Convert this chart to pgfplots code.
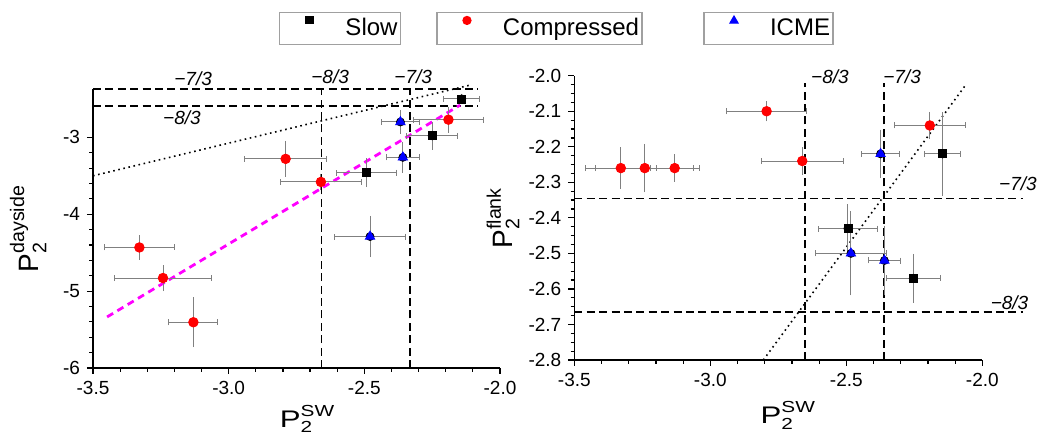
\documentclass[border=0pt]{standalone}
\usepackage{fontspec}
\setmainfont{Liberation Sans}
\newfontfamily\xlblfont[FakeStretch=1.3]{Liberation Sans}
\usepackage{amsmath}
\usepackage{pgfplots}
\usepackage{pgfplotstable}
\pgfplotsset{compat=1.18}

\definecolor{errgray}{HTML}{808080}
\definecolor{ptred}{HTML}{FF0000}
\definecolor{ptblue}{HTML}{0000FF}
\definecolor{fitmag}{HTML}{FF00FF}
\definecolor{boxgray}{HTML}{A0A0A0}

% dayside panel: x y ex ey
\pgfplotstableread{
x y ex ey
-2.141 -2.50 0.067 0.03
-2.25 -2.98 0.094 0.145
-2.491 -3.46 0.11 0.147
}\daySlow
\pgfplotstableread{
x y ex ey
-2.19 -2.77 0.13 0.13
-2.79 -3.28 0.15 0.195
-2.66 -3.58 0.15 0.07
-3.329 -4.432 0.13 0.12
-3.242 -4.83 0.18 0.13
-3.13 -5.405 0.09 0.285
}\dayComp
\pgfplotstableread{
x y ex ey
-2.367 -2.80 0.071 0.12
-2.358 -3.26 0.06 0.16
-2.479 -4.29 0.13 0.23
}\dayIcme
% flank panel
\pgfplotstableread{
x y ex ey
-2.146 -2.22 0.067 0.11
-2.494 -2.43 0.11 0.06
-2.254 -2.57 0.10 0.06
}\flkSlow
\pgfplotstableread{
x y ex ey
-3.329 -2.26 0.13 0.05
-3.241 -2.26 0.18 0.06
-3.131 -2.26 0.09 0.03
-2.793 -2.10 0.147 0.02
-2.662 -2.24 0.15 0.03
-2.193 -2.14 0.13 0.03
}\flkComp
\pgfplotstableread{
x y ex ey
-2.374 -2.22 0.07 0.06
-2.483 -2.50 0.13 0.11
-2.36 -2.52 0.06 0.09
}\flkIcme

\pgfplotsset{
  panel/.style={
    scale only axis, clip=false,
    axis x line*=bottom, axis y line*=left,
    axis line style={line width=0.7pt,-},
    tick align=outside, major tick length=3pt, minor tick length=1.8pt,
    every tick/.style={black,line width=0.6pt},
    tick label style={font=\fontsize{9.5}{11}\selectfont},
    /pgf/number format/assume math mode=true,
    xmin=-3.5, xmax=-2.0, xtick={-3.5,-3.0,-2.5,-2.0}, minor x tick num=4,
    xticklabel style={/pgf/number format/.cd,fixed,fixed zerofill,precision=1},
    xlabel={$\text{P}_{\text{2}}^{\text{SW}}$},
    x label style={font=\xlblfont\fontsize{12}{14}\selectfont},
    y label style={font=\fontsize{14}{16}\selectfont},
  },
  xbars/.style={only marks, mark=none,
    error bars/x dir=both, error bars/x explicit,
    error bars/error mark=|,
    error bars/error bar style={errgray,line width=0.5pt},
    error bars/error mark options={errgray,mark size=1.5pt,line width=0.5pt}},
  pts/.style={only marks,
    error bars/y dir=both, error bars/y explicit,
    error bars/error mark=-,
    error bars/error bar style={errgray,line width=0.5pt},
    error bars/error mark options={errgray,mark size=1.5pt,line width=0.5pt}},
  slow/.style={pts, mark=square*, mark size=2pt, black},
  comp/.style={pts, mark=*, mark size=2.4pt, ptred},
  icme/.style={pts, mark=triangle*, mark size=2.7pt, ptblue},
  refline/.style={black, line width=0.75pt, dash pattern=on 4pt off 2.2pt},
  dotline/.style={black, line width=0.8pt, dash pattern=on 0.8pt off 1.8pt},
  leg/.style={hide axis, scale only axis, width=1pt, height=1pt,
    xmin=0, xmax=1, ymin=0, ymax=1, anchor=center,
    legend style={at={(0.5,0.5)}, anchor=center, draw=boxgray, line width=0.6pt,
      font=\fontsize{12}{14}\selectfont, inner xsep=1.5pt, inner ysep=2pt,
      nodes={inner sep=0pt, text height=9pt, text depth=2.5pt}},
    legend image code/.code={\path[draw=none,fill=none] (-13.5pt,4.3pt) -- (18pt,4.3pt);
      \draw[##1] plot coordinates {(0pt,4.3pt)};}},
}
\newcommand{\lbl}[1]{\fontsize{9.5}{11}\selectfont\itshape #1}
\newcommand{\series}[2]{%
  \addplot[xbars] table[x=x,y=y,x error=ex] {#2};
  \addplot[#1] table[x=x,y=y,y error=ey] {#2};}

\begin{document}
\begin{tikzpicture}
\useasboundingbox (0,0) rectangle (518.5pt,-218.5pt);

% left panel: dayside
\begin{axis}[panel, width=203.5pt, height=139.5pt,
  at={(46.5pt,-184pt)}, anchor=south west,
  ymin=-6, ymax=-2.371, ytick={-6,-5,-4,-3}, minor y tick num=4,
  ylabel={$\text{P}_{\text{2}}^{\text{dayside}}$},
  xlabel style={at={(axis description cs:0.5,-0.2115)}, anchor=base, xshift=5.5pt},
  ylabel style={at={(axis description cs:-0.135,0.5)}, anchor=base, rotate=0},
]
\addplot[refline] coordinates {(-3.5,-2.371) (-2.08,-2.371)};
\addplot[refline] coordinates {(-3.5,-2.59) (-2.08,-2.59)};
\addplot[refline] coordinates {(-2.657,-6) (-2.657,-2.38)};
\addplot[refline] coordinates {(-2.332,-6) (-2.332,-2.38)};
\addplot[dotline] coordinates {(-3.5,-3.5) (-2.11,-2.32)};
\addplot[fitmag, line width=1.4pt, dash pattern=on 3.5pt off 2.5pt] coordinates {(-3.448,-5.336) (-2.147,-2.58)};

\series{comp}{\dayComp}
\series{slow}{\daySlow}
\series{icme}{\dayIcme}

\node at (axis cs:-3.131,-2.241) {\lbl{−7/3}};
\node at (axis cs:-3.172,-2.75) {\lbl{−8/3}};
\node at (axis cs:-2.626,-2.215) {\lbl{−8/3}};
\node at (axis cs:-2.32,-2.215) {\lbl{−7/3}};
\end{axis}

% right panel: flank
\begin{axis}[panel, width=204pt, height=142.15pt,
  at={(287.15pt,-180pt)}, anchor=south west,
  ymin=-2.8, ymax=-2.0, ytick={-2.8,-2.7,-2.6,-2.5,-2.4,-2.3,-2.2,-2.1,-2.0},
  minor y tick num=3,
  yticklabel style={/pgf/number format/.cd,fixed,fixed zerofill,precision=1},
  ylabel={$\text{P}_{\text{2}}^{\text{flank}}$},
  xlabel style={at={(axis description cs:0.5,-0.222)}, anchor=base, xshift=5pt},
  ylabel style={at={(axis description cs:-0.152,0.5)}, anchor=base, rotate=0},
]
\addplot[refline] coordinates {(-3.5,-2.345) (-1.85,-2.345)};
\addplot[refline] coordinates {(-3.5,-2.665) (-1.85,-2.665)};
\addplot[refline] coordinates {(-2.652,-2.8) (-2.652,-2.02)};
\addplot[refline] coordinates {(-2.362,-2.8) (-2.362,-2.02)};
\addplot[dotline] coordinates {(-2.805,-2.8) (-2.064,-2.029)};

\series{comp}{\flkComp}
\series{slow}{\flkSlow}
\series{icme}{\flkIcme}

\node at (axis cs:-2.56,-2.004) {\lbl{−8/3}};
\node at (axis cs:-2.295,-2.004) {\lbl{−7/3}};
\node at (axis cs:-1.869,-2.303) {\lbl{−7/3}};
\node at (axis cs:-1.90,-2.639) {\lbl{−8/3}};
\end{axis}

% legend boxes
\begin{axis}[leg, at={(170pt,-14.25pt)}]
\addlegendimage{only marks, mark=square*, mark size=1.8pt, black}
\addlegendentry{Slow}
\end{axis}
\begin{axis}[leg, at={(269.75pt,-14.25pt)}]
\addlegendimage{only marks, mark=*, mark size=2pt, ptred}
\addlegendentry{Compressed}
\end{axis}
\begin{axis}[leg, at={(384.25pt,-14.25pt)}]
\addlegendimage{only marks, mark=triangle*, mark size=2.3pt, ptblue}
\addlegendentry{ICME}
\end{axis}
\end{tikzpicture}
\end{document}
